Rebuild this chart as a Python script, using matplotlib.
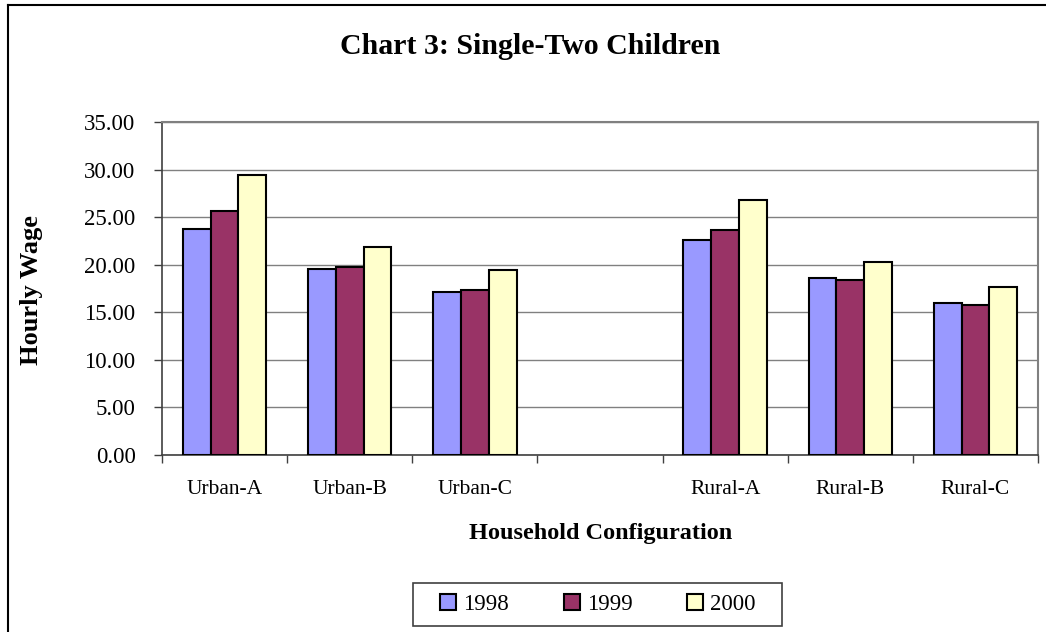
import numpy as np
import matplotlib
matplotlib.use("Agg")
import matplotlib.pyplot as plt
from matplotlib.lines import Line2D
from matplotlib.patches import Rectangle

categories = ['Urban-A', 'Urban-B', 'Urban-C', '', 'Rural-A', 'Rural-B', 'Rural-C']
years = ['1998', '1999', '2000']
wage_1998 = [23.8, 19.6, 17.1, np.nan, 22.6, 18.6, 16.0]
wage_1999 = [25.6, 19.8, 17.3, np.nan, 23.7, 18.4, 15.8]
wage_2000 = [29.4, 21.9, 19.4, np.nan, 26.8, 20.3, 17.7]
yticks = [0, 5, 10, 15, 20, 25, 30, 35]

colors = ['#9999FF', '#993366', '#FFFFCC']

plt.rcParams['font.family'] = ['Liberation Serif', 'DejaVu Serif']

fig = plt.figure(figsize=(10.46, 6.32), dpi=100)
W, H = 1046, 632
ax = fig.add_axes([162 / W, (H - 455) / H, 876 / W, 333 / H])

x = np.arange(len(categories))
bw = 1 / 4.5
for i, (vals, c) in enumerate(zip([wage_1998, wage_1999, wage_2000], colors)):
    ax.bar(x + (i - 1) * bw, vals, bw, color=c, edgecolor='black', linewidth=1.5,
           label=years[i], zorder=3)

ax.set_xlim(-0.5, len(categories) - 0.5)
ax.set_ylim(0, 35)
ax.set_yticks(yticks)
ax.set_yticklabels(['%.2f' % v for v in yticks], fontsize=16.5)
ax.set_xticks(x)
ax.set_xticklabels(categories, fontsize=15.5)
ax.tick_params(axis='x', which='major', length=0, pad=18)
ax.set_xticks(np.arange(-0.5, len(categories), 1), minor=True)
ax.tick_params(axis='x', which='minor', length=6, width=1, color='#404040', direction='out')
ax.tick_params(axis='y', length=6, width=1, color='#404040', pad=13)

ax.yaxis.grid(True, color='#808080', linewidth=1, zorder=0)
for s in ['top', 'right']:
    ax.spines[s].set_color('#808080')
    ax.spines[s].set_linewidth(1.5)
for s in ['left', 'bottom']:
    ax.spines[s].set_color('#404040')
    ax.spines[s].set_linewidth(1.2)

fig.text(530 / W, 1 - 46 / H, 'Chart 3: Single-Two Children', ha='center', va='center',
         fontsize=21.5, fontweight='bold')
fig.text(601 / W, 1 - 533 / H, 'Household Configuration', ha='center', va='center',
         fontsize=17.5, fontweight='bold')
fig.text(32 / W, 1 - 290 / H, 'Hourly Wage', ha='center', va='center', rotation=90,
         fontsize=19, fontweight='bold')

# legend with a fixed frame
fig.add_artist(Rectangle((413 / W, 1 - 626 / H), 369 / W, 43 / H, transform=fig.transFigure,
                         facecolor='white', edgecolor='#404040', linewidth=1.2))
handles = [Line2D([0], [0], marker='s', linestyle='none', markersize=11,
                  markerfacecolor=c, markeredgecolor='black', markeredgewidth=1.5)
           for c in colors]
leg = fig.legend(handles, years, loc='center', bbox_to_anchor=(598 / W, 1 - 604 / H),
                 ncol=3, frameon=False, fontsize=16.5, handlelength=0.7,
                 handletextpad=0.3, columnspacing=2.4, borderpad=0.2)

# outer chart frame (cut off at right and bottom)
fig.add_artist(Line2D([8 / W, 8 / W], [0, 1 - 5 / H], color='black', linewidth=1.5))
fig.add_artist(Line2D([8 / W, 1], [1 - 5 / H, 1 - 5 / H], color='black', linewidth=1.5))

fig.savefig('out.png', dpi=100)
